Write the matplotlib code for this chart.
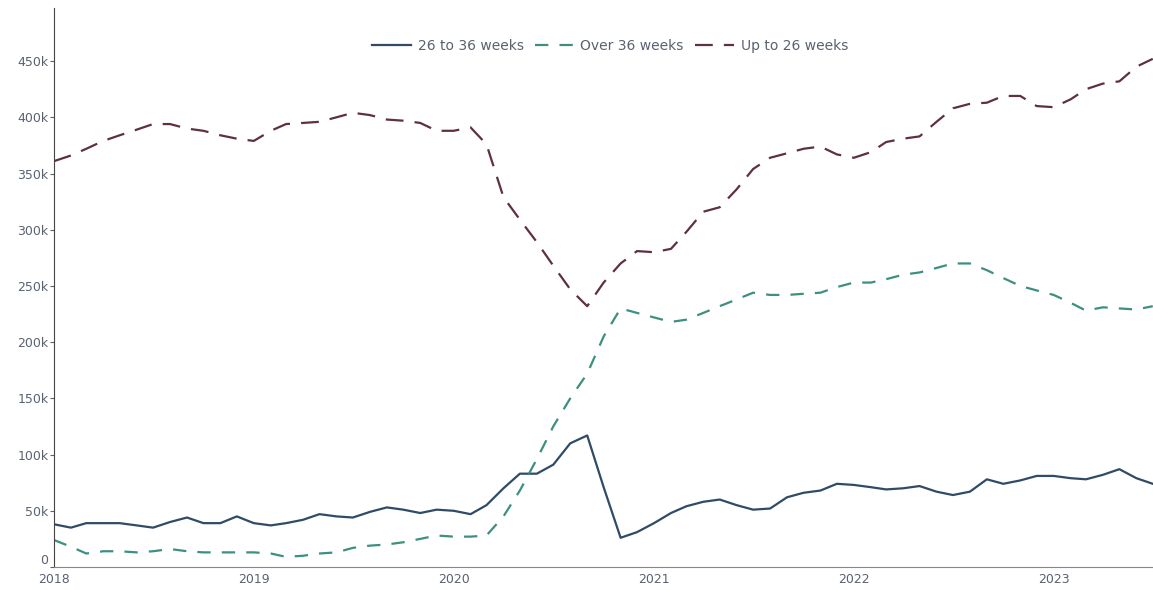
import numpy as np
import pandas as pd
import matplotlib
matplotlib.use('Agg')
from matplotlib import pyplot as plt
import matplotlib.dates as mdates
from matplotlib.ticker import FuncFormatter

months = pd.date_range('2018-01-01', '2023-07-01', freq='MS')

weeks_26_36 = [38, 35, 39, 39, 39, 37, 35, 40, 44, 39, 39, 45,
               39, 37, 39, 42, 47, 45, 44, 49, 53, 51, 48, 51,
               50, 47, 55, 70, 83, 83, 91, 110, 117, 71, 26, 31,
               39, 48, 54, 58, 60, 55, 51, 52, 62, 66, 68, 74,
               73, 71, 69, 70, 72, 67, 64, 67, 78, 74, 77, 81,
               81, 79, 78, 82, 87, 79, 74]

over_36 = [24, 18, 12, 14, 14, 13, 14, 16, 14, 13, 13, 13,
           13, 12, 9, 10, 12, 13, 17, 19, 20, 22, 25, 28,
           27, 27, 28, 45, 68, 96, 125, 150, 172, 205, 230, 226,
           222, 218, 220, 226, 232, 238, 244, 242, 242, 243, 244, 249,
           253, 253, 256, 260, 262, 266, 270, 270, 264, 257, 250, 246,
           242, 235, 228, 231, 230, 229, 232]

up_to_26 = [361, 366, 372, 379, 384, 389, 394, 394, 390, 388, 384, 381,
            379, 388, 394, 395, 396, 400, 404, 402, 398, 397, 395, 388,
            388, 391, 376, 329, 309, 289, 268, 247, 232, 253, 270, 281,
            280, 283, 298, 316, 320, 336, 354, 364, 368, 372, 374, 367,
            364, 369, 378, 381, 383, 396, 408, 412, 413, 419, 419, 410,
            409, 416, 425, 430, 432, 445, 452]

series = [
    ('26 to 36 weeks', weeks_26_36, '#2f4b66', '-'),
    ('Over 36 weeks', over_36, '#3d8f80', (0, (6, 5))),
    ('Up to 26 weeks', up_to_26, '#5e3040', (0, (8, 5))),
]

fig = plt.figure(figsize=(11.53, 5.9), dpi=100)
ax = fig.add_axes([0.0468, 0.039, 0.953, 0.947])

for name, vals, color, ls in series:
    ax.plot(months, np.array(vals) * 1000, color=color, linestyle=ls, linewidth=1.6, label=name)

ax.set_xlim(months[0], months[-1])
ax.set_ylim(0, 497000)
ax.set_yticks(np.arange(0, 450001, 50000))
ax.yaxis.set_major_formatter(FuncFormatter(lambda v, p: '0' if v == 0 else f'{int(v / 1000)}k'))
ax.xaxis.set_major_locator(mdates.YearLocator())
ax.xaxis.set_major_formatter(mdates.DateFormatter('%Y'))

for s in ['top', 'right']:
    ax.spines[s].set_visible(False)
ax.spines['left'].set_color('#444444')
ax.spines['bottom'].set_color('#888888')
ax.tick_params(axis='y', length=3, pad=1, colors='#5a6270', labelsize=9)
ax.tick_params(axis='x', length=0, pad=4, colors='#5a6270', labelsize=9)
# nudge the zero label up a little so it clears the 2018 label
ax.get_yticklabels()[0].set_verticalalignment('bottom')

leg = ax.legend(loc='center', bbox_to_anchor=(0.506, 0.932), ncol=3, frameon=False,
                fontsize=10, handlelength=2.8, columnspacing=0.8, handletextpad=0.5)
for t in leg.get_texts():
    t.set_color('#5a6270')

fig.savefig('out.png', dpi=100)
